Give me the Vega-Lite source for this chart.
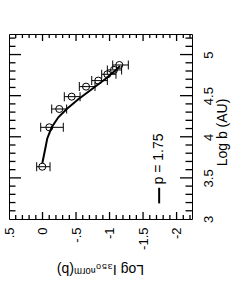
{
  "$schema": "https://vega.github.io/schema/vega-lite/v6.json",
  "width": 183,
  "height": 185,
  "autosize": {"type": "none"},
  "padding": {"left": 9, "top": 34, "right": 54, "bottom": 78},
  "background": "white",
  "config": {
    "view": {"stroke": "black", "strokeWidth": 1},
    "font": "Liberation Sans",
    "axis": {"grid": false, "labelColor": "black", "titleColor": "black", "titleFontWeight": "normal"}
  },
  "datasets": {
    "pts": [
      {"b": 3.636, "I": 0.003, "lo": 0.087, "hi": -0.112},
      {"b": 4.115, "I": -0.101, "lo": 0.027, "hi": -0.31},
      {"b": 4.338, "I": -0.25, "lo": -0.137, "hi": -0.36},
      {"b": 4.488, "I": -0.435, "lo": -0.325, "hi": -0.56},
      {"b": 4.61, "I": -0.649, "lo": -0.549, "hi": -0.783},
      {"b": 4.683, "I": -0.832, "lo": -0.734, "hi": -0.967},
      {"b": 4.76, "I": -0.967, "lo": -0.883, "hi": -1.096},
      {"b": 4.813, "I": -1.066, "lo": -0.967, "hi": -1.18},
      {"b": 4.873, "I": -1.146, "lo": -1.047, "hi": -1.28}
    ],
    "model": [
      {"b": 3.678, "I": 0.003},
      {"b": 3.84, "I": -0.037},
      {"b": 3.98, "I": -0.071},
      {"b": 4.115, "I": -0.137},
      {"b": 4.237, "I": -0.236},
      {"b": 4.338, "I": -0.361},
      {"b": 4.456, "I": -0.534},
      {"b": 4.578, "I": -0.734},
      {"b": 4.7, "I": -0.932},
      {"b": 4.804, "I": -1.081},
      {"b": 4.861, "I": -1.156}
    ],
    "majX": [{"v": 0}, {"v": -0.5}, {"v": -1}, {"v": -1.5}, {"v": -2}],
    "minX": [{"v": 0.4}, {"v": 0.3}, {"v": 0.2}, {"v": 0.1}, {"v": -0.1}, {"v": -0.2}, {"v": -0.3}, {"v": -0.4}, {"v": -0.6}, {"v": -0.7}, {"v": -0.8}, {"v": -0.9}, {"v": -1.1}, {"v": -1.2}, {"v": -1.3}, {"v": -1.4}, {"v": -1.6}, {"v": -1.7}, {"v": -1.8}, {"v": -1.9}, {"v": -2.1}, {"v": -2.2}],
    "majY": [{"v": 3.5}, {"v": 4}, {"v": 4.5}, {"v": 5}],
    "minY": [{"v": 3.1}, {"v": 3.2}, {"v": 3.3}, {"v": 3.4}, {"v": 3.6}, {"v": 3.7}, {"v": 3.8}, {"v": 3.9}, {"v": 4.1}, {"v": 4.2}, {"v": 4.3}, {"v": 4.4}, {"v": 4.6}, {"v": 4.7}, {"v": 4.8}, {"v": 4.9}, {"v": 5.1}, {"v": 5.2}],
    "legline": [{"I": -1.74, "b0": 3.19, "b1": 3.38}],
    "legtext": [{"I": -1.74, "b": 3.42, "label": "p = 1.75"}]
  },
  "resolve": {"axis": {"x": "independent", "y": "independent"}},
  "layer": [
    {
      "data": {"name": "model"},
      "mark": {"type": "line", "color": "black", "strokeWidth": 2},
      "encoding": {
        "x": {"field": "I", "type": "quantitative", "sort": null,
          "scale": {"domain": [0.5, -2.23], "nice": false, "zero": false},
          "axis": {"orient": "bottom", "values": [0.5, 0, -0.5, -1, -1.5, -2], "ticks": false, "domain": false,
            "labelAngle": -90, "labelAlign": "right", "labelBaseline": "middle", "labelPadding": 8,
            "labelFontSize": 13, "labelFlush": false, "labelOverlap": false,
            "labelExpr": "replace(toString(datum.value), '0.5', '.5')",
            "title": "Log I₃₅₀ⁿᵒʳᵐ(b)", "titleAngle": 180, "titleX": 91, "titleY": 49,
            "titleAlign": "center", "titleBaseline": "middle", "titleFontSize": 14}},
        "y": {"field": "b", "type": "quantitative",
          "scale": {"domain": [3, 5.25], "nice": false, "zero": false},
          "axis": {"orient": "right", "values": [3, 3.5, 4, 4.5, 5], "ticks": false, "domain": false,
            "labelAngle": -90, "labelAlign": "center", "labelBaseline": "top", "labelPadding": 10,
            "labelFontSize": 13, "labelFlush": false, "labelOverlap": false,
            "labelExpr": "toString(datum.value)",
            "title": "Log b (AU)", "titleAngle": -90, "titleX": 30, "titleY": 98,
            "titleAlign": "center", "titleBaseline": "middle", "titleFontSize": 14}},
        "order": {"field": "b", "type": "quantitative"}
      }
    },
    {
      "data": {"name": "majX"},
      "mark": {"type": "rule", "color": "black", "strokeWidth": 1.3},
      "encoding": {"x": {"field": "v", "type": "quantitative", "axis": null}, "y": {"datum": 3, "type": "quantitative", "axis": null}, "y2": {"datum": 3.085}}
    },
    {
      "data": {"name": "majX"},
      "mark": {"type": "rule", "color": "black", "strokeWidth": 1.3},
      "encoding": {"x": {"field": "v", "type": "quantitative", "axis": null}, "y": {"datum": 5.25, "type": "quantitative", "axis": null}, "y2": {"datum": 5.165}}
    },
    {
      "data": {"name": "minX"},
      "mark": {"type": "rule", "color": "black", "strokeWidth": 1.3},
      "encoding": {"x": {"field": "v", "type": "quantitative", "axis": null}, "y": {"datum": 3, "type": "quantitative", "axis": null}, "y2": {"datum": 3.049}}
    },
    {
      "data": {"name": "minX"},
      "mark": {"type": "rule", "color": "black", "strokeWidth": 1.3},
      "encoding": {"x": {"field": "v", "type": "quantitative", "axis": null}, "y": {"datum": 5.25, "type": "quantitative", "axis": null}, "y2": {"datum": 5.201}}
    },
    {
      "data": {"name": "majY"},
      "mark": {"type": "rule", "color": "black", "strokeWidth": 1.3},
      "encoding": {"y": {"field": "v", "type": "quantitative", "axis": null}, "x": {"datum": 0.5, "type": "quantitative", "axis": null}, "x2": {"datum": 0.321}}
    },
    {
      "data": {"name": "majY"},
      "mark": {"type": "rule", "color": "black", "strokeWidth": 1.3},
      "encoding": {"y": {"field": "v", "type": "quantitative", "axis": null}, "x": {"datum": -2.23, "type": "quantitative", "axis": null}, "x2": {"datum": -2.051}}
    },
    {
      "data": {"name": "minY"},
      "mark": {"type": "rule", "color": "black", "strokeWidth": 1.3},
      "encoding": {"y": {"field": "v", "type": "quantitative", "axis": null}, "x": {"datum": 0.5, "type": "quantitative", "axis": null}, "x2": {"datum": 0.403}}
    },
    {
      "data": {"name": "minY"},
      "mark": {"type": "rule", "color": "black", "strokeWidth": 1.3},
      "encoding": {"y": {"field": "v", "type": "quantitative", "axis": null}, "x": {"datum": -2.23, "type": "quantitative", "axis": null}, "x2": {"datum": -2.133}}
    },
    {
      "data": {"name": "pts"},
      "mark": {"type": "rule", "color": "black", "strokeWidth": 1},
      "encoding": {
        "x": {"field": "lo", "type": "quantitative", "axis": null},
        "x2": {"field": "hi"},
        "y": {"field": "b", "type": "quantitative", "axis": null}
      }
    },
    {
      "data": {"name": "pts"},
      "mark": {"type": "tick", "orient": "vertical", "size": 9, "thickness": 1, "color": "black", "opacity": 1},
      "encoding": {
        "x": {"field": "lo", "type": "quantitative", "axis": null},
        "y": {"field": "b", "type": "quantitative", "axis": null}
      }
    },
    {
      "data": {"name": "pts"},
      "mark": {"type": "tick", "orient": "vertical", "size": 9, "thickness": 1, "color": "black", "opacity": 1},
      "encoding": {
        "x": {"field": "hi", "type": "quantitative", "axis": null},
        "y": {"field": "b", "type": "quantitative", "axis": null}
      }
    },
    {
      "data": {"name": "pts"},
      "mark": {"type": "point", "filled": false, "color": "black", "size": 50, "strokeWidth": 1, "opacity": 1},
      "encoding": {
        "x": {"field": "I", "type": "quantitative", "axis": null},
        "y": {"field": "b", "type": "quantitative", "axis": null}
      }
    },
    {
      "data": {"name": "legline"},
      "mark": {"type": "rule", "color": "black", "strokeWidth": 2},
      "encoding": {
        "x": {"field": "I", "type": "quantitative", "axis": null},
        "y": {"field": "b0", "type": "quantitative", "axis": null},
        "y2": {"field": "b1"}
      }
    },
    {
      "data": {"name": "legtext"},
      "mark": {"type": "text", "angle": -90, "align": "left", "baseline": "middle", "fontSize": 14, "color": "black"},
      "encoding": {
        "x": {"field": "I", "type": "quantitative", "axis": null},
        "y": {"field": "b", "type": "quantitative", "axis": null},
        "text": {"field": "label"}
      }
    }
  ]
}
